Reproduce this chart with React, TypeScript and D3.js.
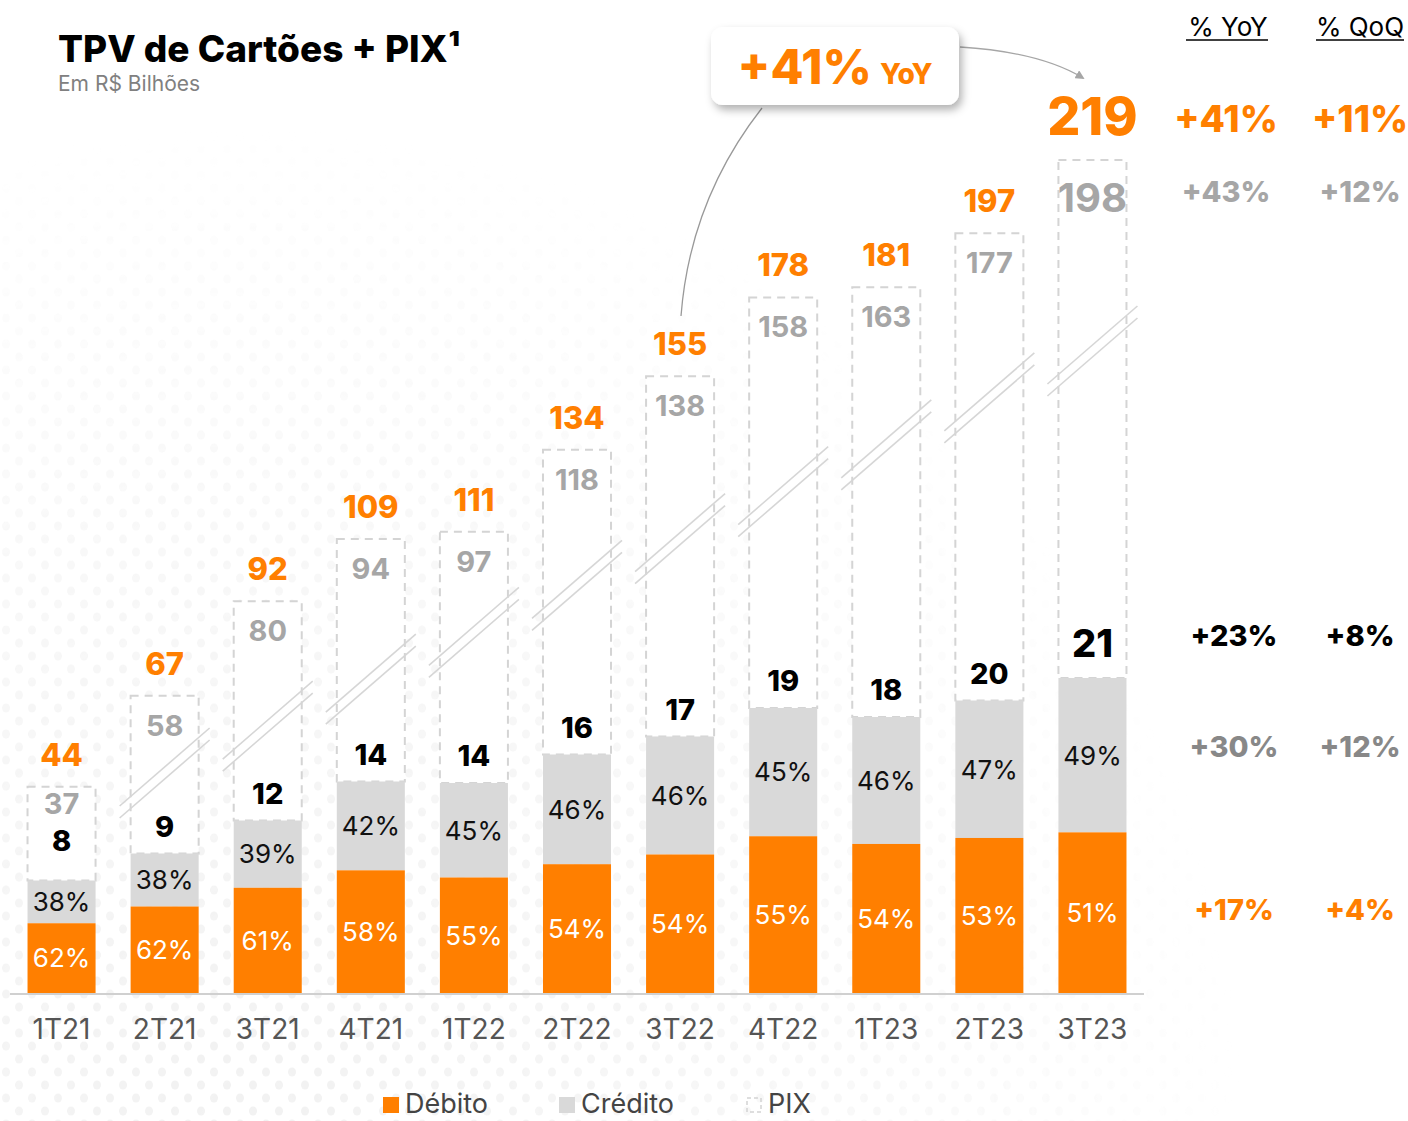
import { useEffect } from 'react';
import * as d3 from 'd3';

// TPV de Cartões + PIX (R$ bilhões)
const quarters = ['1T21', '2T21', '3T21', '4T21', '1T22', '2T22', '3T22', '4T22', '1T23', '2T23', '3T23'];
const totals = [44, 67, 92, 109, 111, 134, 155, 178, 181, 197, 219];
const pixValues = [37, 58, 80, 94, 97, 118, 138, 158, 163, 177, 198];
const cardValues = [7.5, 9.3, 11.5, 14.1, 14.0, 15.9, 17.1, 19.0, 18.4, 19.5, 21.0];
const debitShare = [62, 62, 61, 58, 55, 54, 54, 55, 54, 53, 51];
const creditShare = [38, 38, 39, 42, 45, 46, 46, 45, 46, 47, 49];

const yoyValues = ['+41%', '+43%', '+23%', '+30%', '+17%'];
const qoqValues = ['+11%', '+12%', '+8%', '+12%', '+4%'];

const ORANGE = '#ff7f00';
const GRAY = '#d9d9d9';
const PIX_TEXT = '#a6a6a6';
const DASH = '#d4d4d4';
const FONT = "Inter, 'Noto Sans', sans-serif";

const W = 1408;
const H = 1121;
const baseline = 993;

export default function App() {
  useEffect(() => {
    document.body.style.margin = '0';
  }, []);

  const x = d3.scaleBand<string>()
    .domain(quarters)
    .range([10, 1144])
    .paddingInner(0.34)
    .paddingOuter(0.17);
  const bw = x.bandwidth();

  // cards (débito + crédito) are drawn to scale
  const yCards = d3.scaleLinear().domain([0, 21]).range([baseline, baseline - 315]);
  // the PIX box uses a compressed (broken) scale on the total
  const yTotal = d3.scalePow().exponent(0.87).domain([0, 219]).range([baseline, 160]);
  // vertical position of the break marks along the chart
  const yBreak = d3.scaleLinear().domain([1, 10]).range([773, 351]);

  const last = quarters.length - 1;

  const bars = quarters.map((q, i) => {
    const x0 = x(q)!;
    const cx = x0 + bw / 2;
    const cardsTop = yCards(cardValues[i]);
    const debitTop = yCards(cardValues[i] * debitShare[i] / 100);
    const boxTop = yTotal(totals[i]);
    const small = cardsTop - boxTop < 120;
    const big = i === last;
    return { q, i, x0, cx, cardsTop, debitTop, boxTop, small, big };
  });

  const lb = bars[last];
  const rowY = [
    lb.boxTop - 41,
    lb.boxTop + 32,
    lb.cardsTop - 42,
    (lb.cardsTop + lb.debitTop) / 2 - 9,
    (lb.debitTop + baseline) / 2 - 3,
  ];
  const rowColor = [ORANGE, PIX_TEXT, '#000', '#888888', ORANGE];
  const rowSize = [37, 29, 29, 29, 29];
  const colYoY = 1228;
  const colQoQ = 1360;

  return (
    <svg width={W} height={H} style={{ display: 'block', background: '#fff' }} fontFamily={FONT}>
      <defs>
        <pattern id="dots" width="26" height="26" patternUnits="userSpaceOnUse">
          <ellipse cx="6" cy="6" rx="4" ry="4.5" fill="#ececec" />
          <ellipse cx="19" cy="19" rx="4" ry="4.5" fill="#ececec" />
        </pattern>
        <radialGradient id="fade" gradientUnits="userSpaceOnUse" cx="250" cy="1121" r="1000">
          <stop offset="0" stopColor="#fff" stopOpacity="1" />
          <stop offset="0.6" stopColor="#fff" stopOpacity="0.5" />
          <stop offset="1" stopColor="#fff" stopOpacity="0" />
        </radialGradient>
        <mask id="dotMask">
          <rect width={W} height={H} fill="url(#fade)" />
        </mask>
        <filter id="shadow" x="-20%" y="-30%" width="140%" height="170%">
          <feDropShadow dx="3" dy="5" stdDeviation="4" floodColor="#000" floodOpacity="0.3" />
        </filter>
        <marker id="arrow" viewBox="0 0 10 10" refX="8" refY="5" markerWidth="7" markerHeight="7" orient="auto">
          <path d="M0,0 L10,5 L0,10 z" fill="#a6a6a6" />
        </marker>
      </defs>

      <rect width={W} height={H} fill="url(#dots)" mask="url(#dotMask)" opacity={0.7} />

      {/* title */}
      <text x={58} y={62} fontSize={37} fontWeight={800} fill="#000">TPV de Cartões + PIX¹</text>
      <text x={58} y={91} fontSize={21} fill="#808080">Em R$ Bilhões</text>

      {/* PIX dashed boxes */}
      {bars.map(b => (
        <g key={'box' + b.q}>
          <rect x={b.x0} y={b.boxTop} width={bw} height={b.cardsTop - b.boxTop}
            fill="#fff" stroke={DASH} strokeWidth={2} strokeDasharray="8 6" />
        </g>
      ))}

      {/* break marks */}
      {bars.filter(b => b.i > 0).map(b => {
        const cy = yBreak(b.i);
        const line = d3.line();
        const pts = (off: number) => line([[b.cx - 45, cy + 39 + off], [b.cx + 45, cy - 39 + off]])!;
        return (
          <g key={'brk' + b.q} stroke="#d6d6d6" strokeWidth={1.6} fill="none">
            <path d={pts(-6)} />
            <path d={pts(6)} />
          </g>
        );
      })}

      {/* stacked cards bars */}
      {bars.map(b => (
        <g key={'bar' + b.q}>
          <rect x={b.x0} y={b.cardsTop} width={bw} height={b.debitTop - b.cardsTop} fill={GRAY} />
          <rect x={b.x0} y={b.debitTop} width={bw} height={baseline - b.debitTop} fill={ORANGE} />
          <text x={b.cx} y={(b.cardsTop + b.debitTop) / 2} dy="0.36em" textAnchor="middle"
            fontSize={26} fill="#111">{creditShare[b.i]}%</text>
          <text x={b.cx} y={(b.debitTop + baseline) / 2} dy="0.36em" textAnchor="middle"
            fontSize={26} fill="#fff">{debitShare[b.i]}%</text>
        </g>
      ))}

      {/* value labels */}
      {bars.map(b => (
        <g key={'lbl' + b.q} textAnchor="middle">
          <text x={b.cx} y={b.boxTop - (b.big ? 25 : 21)} fontSize={b.big ? 52 : 31} fontWeight={800} fill={ORANGE}>
            {totals[b.i]}
          </text>
          <text x={b.cx} y={b.boxTop + (b.small ? 27 : b.big ? 52 : 40)} fontSize={b.big ? 40 : 29} fontWeight={700} fill={PIX_TEXT}>
            {pixValues[b.i]}
          </text>
          <text x={b.cx} y={b.cardsTop - (b.small ? 30 : b.big ? 21 : 17)} fontSize={b.big ? 38 : 29} fontWeight={800} fill="#000">
            {Math.round(cardValues[b.i])}
          </text>
        </g>
      ))}

      {/* axis */}
      <line x1={10} x2={1144} y1={baseline + 1} y2={baseline + 1} stroke="#d0d0d0" strokeWidth={2} />
      {bars.map(b => (
        <text key={'x' + b.q} x={b.cx} y={1039} textAnchor="middle" fontSize={28} fill="#555">{b.q}</text>
      ))}

      {/* callout */}
      <path d="M762,108 Q690,200 681,316" fill="none" stroke="#999" strokeWidth={1.3} />
      <path d="M960,47 Q1040,52 1083,78" fill="none" stroke="#a6a6a6" strokeWidth={1.3} markerEnd="url(#arrow)" />
      <rect x={711} y={27} width={248} height={78} rx={12} fill="#fff" filter="url(#shadow)" />
      <text x={835} y={84} textAnchor="middle" fontWeight={800} fill={ORANGE}>
        <tspan fontSize={48}>+41%</tspan>
        <tspan fontSize={28} dx={8}>YoY</tspan>
      </text>

      {/* YoY / QoQ table */}
      <text x={colYoY} y={36} textAnchor="middle" fontSize={26} fill="#000">% YoY</text>
      <text x={colQoQ} y={36} textAnchor="middle" fontSize={26} fill="#000">% QoQ</text>
      <line x1={1186} x2={1268} y1={40} y2={40} stroke="#000" strokeWidth={1.5} />
      <line x1={1316} x2={1404} y1={40} y2={40} stroke="#000" strokeWidth={1.5} />
      {yoyValues.map((v, k) => (
        <g key={'row' + k} fontWeight={800} fill={rowColor[k]} fontSize={rowSize[k]} textAnchor="middle">
          <text x={k === 0 || k === 1 ? colYoY - 2 : colYoY + 6} y={rowY[k]} dy="0.36em">{v}</text>
          <text x={colQoQ} y={rowY[k]} dy="0.36em">{qoqValues[k]}</text>
        </g>
      ))}

      {/* legend */}
      <rect x={383} y={1097} width={16} height={16} fill={ORANGE} />
      <text x={405} y={1113} fontSize={27} fill="#444">Débito</text>
      <rect x={559} y={1097} width={16} height={16} fill={GRAY} />
      <text x={581} y={1113} fontSize={27} fill="#444">Crédito</text>
      <rect x={747} y={1098} width={14} height={14} fill="none" stroke={DASH} strokeWidth={1.5} strokeDasharray="4 3" />
      <text x={768} y={1113} fontSize={27} fill="#444">PIX</text>
    </svg>
  );
}
